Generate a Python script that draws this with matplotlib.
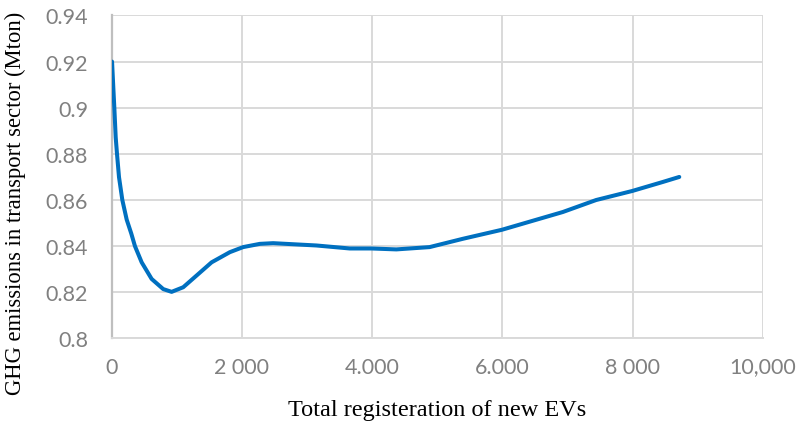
import matplotlib
matplotlib.use("Agg")
import matplotlib.pyplot as plt

# Data
ev_total = [5, 25, 40, 61, 81, 112, 163, 230, 300, 357, 460, 613, 791, 920,
            1098, 1304, 1534, 1814, 2018, 2275, 2479, 3144, 3655, 3988, 4371,
            4882, 5393, 5991, 6927, 7439, 7991, 8460, 8716]
ghg = [0.920, 0.9084, 0.900, 0.8872, 0.880, 0.8699, 0.860, 0.8515, 0.8455, 0.840,
       0.833, 0.8258, 0.8214, 0.8202, 0.8222, 0.8273, 0.833, 0.8374, 0.8396,
       0.841, 0.8413, 0.8403, 0.839, 0.839, 0.8386, 0.8396, 0.8432, 0.8471,
       0.8548, 0.860, 0.8639, 0.8678, 0.870]

x_ticks = [0, 2000, 4000, 6000, 8000, 10000]
x_tick_labels = ["0", "2 000", "4.000", "6.000", "8 000", "10,000"]
y_ticks = [0.80, 0.82, 0.84, 0.86, 0.88, 0.90, 0.92, 0.94]
y_tick_labels = ["0.8", "0.82", "0.84", "0.86", "0.88", "0.9", "0.92", "0.94"]

fig = plt.figure(figsize=(7.98, 4.27), dpi=100)
ax = fig.add_axes([0.14, 0.205, 0.816, 0.7565])

ax.plot(ev_total, ghg, color="#0070C0", linewidth=2.9, solid_capstyle="round",
        solid_joinstyle="round", zorder=3)

ax.set_xlim(0, 10000)
ax.set_ylim(0.80, 0.94)
ax.set_xticks(x_ticks)
ax.set_xticklabels(x_tick_labels)
ax.set_yticks(y_ticks)
ax.set_yticklabels(y_tick_labels)

ax.grid(True, color="#D9D9D9", linewidth=1.4, zorder=0)
for s in ["top", "right"]:
    ax.spines[s].set_visible(False)
ax.spines["left"].set_color("#BFBFBF")
ax.spines["left"].set_linewidth(1.6)
ax.spines["bottom"].set_color("#D9D9D9")
ax.spines["bottom"].set_linewidth(1.4)
ax.tick_params(axis="both", length=0, labelsize=15.5, labelcolor="#808080")
ax.tick_params(axis="x", pad=13)
ax.tick_params(axis="y", pad=17)
for lab in ax.get_xticklabels() + ax.get_yticklabels():
    lab.set_family("Lato")

ax.set_xlabel("Total registeration of new EVs", family="Liberation Serif",
              fontsize=17.5, color="#000000", labelpad=16)
ax.set_ylabel("GHG emissions in transport sector (Mton)", family="Liberation Serif",
              fontsize=16.3, color="#000000")
ax.yaxis.set_label_coords(-0.1316, 0.4226)

fig.savefig("out.png", dpi=100)
